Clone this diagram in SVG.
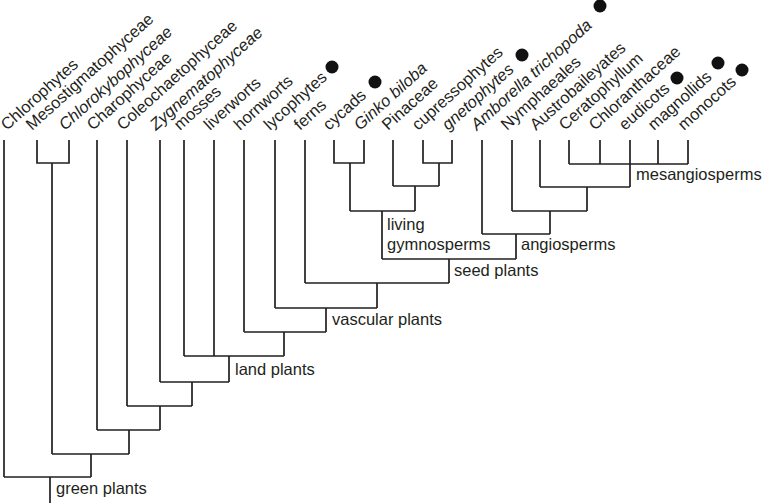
<svg xmlns="http://www.w3.org/2000/svg" width="762" height="503" viewBox="0 0 762 503">
<style>
.ln{fill:none;stroke:#231f20;stroke-width:1.7;stroke-linejoin:miter;stroke-linecap:butt}
text{font-family:"Liberation Sans",Arial,sans-serif;font-size:16.5px;fill:#231f20}
.it{font-style:italic}
.dot{fill:#111}
</style>
<rect width="762" height="503" fill="#fff"/>
<g id="connectors" class="ln">
<path d="M4,140V477"/>
<path d="M37,140V163H69V140M52,163V454"/>
<path d="M97,140V430"/>
<path d="M127,140V406"/>
<path d="M160,140V382"/>
<path d="M184,140V356"/>
<path d="M214,140V356"/>
<path d="M244,140V332"/>
<path d="M275,140V308"/>
<path d="M305,140V283"/>
<path d="M334,140V163H364V140M350,163V211"/>
<path d="M393,140V186"/>
<path d="M423,140V163H452V140M439,163V186"/>
<path d="M393,186H439M415,186V211"/>
<path d="M350,211H415M382,211V259"/>
<path d="M482,140V234"/>
<path d="M512,140V211"/>
<path d="M540,140V187"/>
<path d="M569,140V164M600,140V164M630,140V187M658,140V164M688,140V164M569,164H688"/>
<path d="M540,187H630M587,187V211"/>
<path d="M512,211H587M550,211V234"/>
<path d="M482,234H550M516,234V259"/>
<path d="M382,259H516M449,259V283"/>
<path d="M305,283H449M377,283V308"/>
<path d="M275,308H377M326,308V332"/>
<path d="M244,332H326M284,332V356"/>
<path d="M184,356H284M229,356V382"/>
<path d="M160,382H229M192,382V406"/>
<path d="M127,406H192M160,406V430"/>
<path d="M97,430H160M129,430V454"/>
<path d="M52,454H129M91,454V477"/>
<path d="M4,477H91M50,477V503"/>
</g>
<g id="leaf-chlorophytes"><text transform="translate(7,131) rotate(-42)">Chlorophytes</text></g>
<g id="leaf-mesostigmatophyceae"><text transform="translate(32,131) rotate(-42)">Mesostigmatophyceae</text></g>
<g id="leaf-chlorokybophyceae"><text class="it" transform="translate(65,131) rotate(-42)">Chlorokybophyceae</text></g>
<g id="leaf-charophyceae"><text transform="translate(93,131) rotate(-42)">Charophyceae</text></g>
<g id="leaf-coleochaetophyceae"><text transform="translate(123,131) rotate(-42)">Coleochaetophyceae</text></g>
<g id="leaf-zygnematophyceae"><text class="it" transform="translate(156,131) rotate(-42)">Zygnematophyceae</text></g>
<g id="leaf-mosses"><text transform="translate(180,131) rotate(-42)">mosses</text></g>
<g id="leaf-liverworts"><text transform="translate(210,131) rotate(-42)">liverworts</text></g>
<g id="leaf-hornworts"><text transform="translate(240,131) rotate(-42)">hornworts</text></g>
<g id="leaf-lycophytes"><text transform="translate(270,131) rotate(-42)">lycophytes</text><circle class="dot" cx="332" cy="67" r="6.5"/></g>
<g id="leaf-ferns"><text transform="translate(300,131) rotate(-42)">ferns</text></g>
<g id="leaf-cycads"><text transform="translate(329,131) rotate(-42)">cycads</text><circle class="dot" cx="375" cy="82" r="6.5"/></g>
<g id="leaf-ginko"><text class="it" transform="translate(360,131) rotate(-42)">Ginko biloba</text></g>
<g id="leaf-pinaceae"><text transform="translate(388,131) rotate(-42)">Pinaceae</text></g>
<g id="leaf-cupressophytes"><text transform="translate(418,131) rotate(-42)">cupressophytes</text></g>
<g id="leaf-gnetophytes"><text class="it" transform="translate(448,131) rotate(-42)">gnetophytes</text><circle class="dot" cx="522" cy="55" r="6.5"/></g>
<g id="leaf-amborella"><text class="it" transform="translate(477,131) rotate(-42)">Amborella trichopoda</text><circle class="dot" cx="600" cy="6" r="6.5"/></g>
<g id="leaf-nymphaeales"><text transform="translate(507,131) rotate(-42)">Nymphaeales</text></g>
<g id="leaf-austrobaileyates"><text transform="translate(536,131) rotate(-42)">Austrobaileyates</text></g>
<g id="leaf-ceratophyllum"><text transform="translate(565,131) rotate(-42)">Ceratophyllum</text></g>
<g id="leaf-chloranthaceae"><text transform="translate(595,131) rotate(-42)">Chloranthaceae</text></g>
<g id="leaf-eudicots"><text transform="translate(625,131) rotate(-42)">eudicots</text><circle class="dot" cx="677" cy="78" r="6.5"/></g>
<g id="leaf-magnollids"><text transform="translate(654,131) rotate(-42)">magnollids</text><circle class="dot" cx="718" cy="63" r="6.5"/></g>
<g id="leaf-monocots"><text transform="translate(684,131) rotate(-42)">monocots</text><circle class="dot" cx="742" cy="70" r="6.5"/></g>
<g id="clade-mesangiosperms"><text x="636" y="180">mesangiosperms</text></g>
<g id="clade-living-gymnosperms"><text x="387" y="230">living</text><text x="387" y="250">gymnosperms</text></g>
<g id="clade-angiosperms"><text x="521" y="250">angiosperms</text></g>
<g id="clade-seed-plants"><text x="454" y="276">seed plants</text></g>
<g id="clade-vascular-plants"><text x="332" y="325">vascular plants</text></g>
<g id="clade-land-plants"><text x="235" y="375">land plants</text></g>
<g id="clade-green-plants"><text x="56" y="494">green plants</text></g>
</svg>
